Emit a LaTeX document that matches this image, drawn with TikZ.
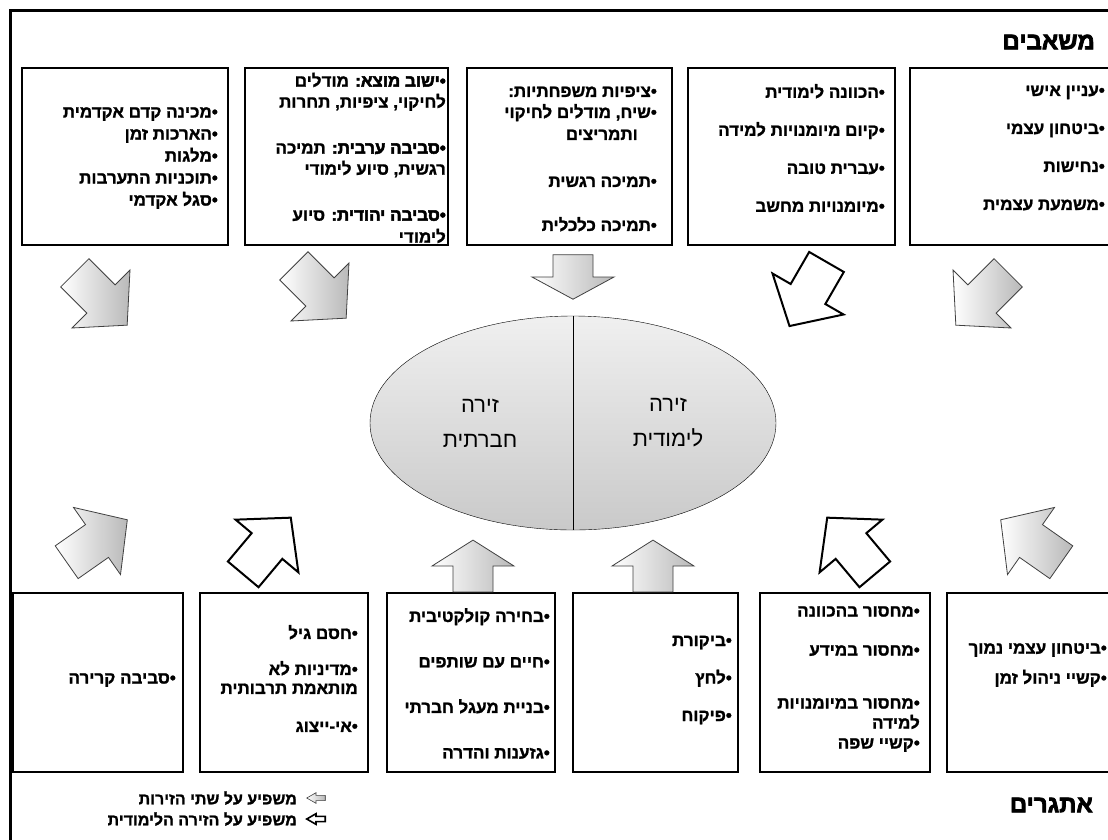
\documentclass[tikz,border=0pt]{standalone}
\usepackage{fontspec}
\usetikzlibrary{%
  positioning,
  shapes.geometric,
}
\TeXXeTstate=1
\newfontfamily\hebfont[Script=Hebrew]{Liberation Sans}
\newfontfamily\hebbold[Script=Hebrew,FakeBold=1.3]{Liberation Sans Bold}
\newfontfamily\hebheavy[Script=Hebrew,FakeBold=3]{Liberation Sans Bold}
% one right-to-left line
\newcommand\rl[1]{\beginR #1\endR}
% a heavier label at the start of an item
\newcommand\lbl[1]{{\hebheavy #1}}

\begin{document}
\begin{tikzpicture}[%
           x=1pt, y=-1pt,
           box/.style={
             % The shape:
             rectangle,
             draw,
             line width=1.8pt,
             inner sep=0pt,
           },
           items/.style={
             font=\hebbold\fontsize{17}{19}\selectfont,
             align=right,
             anchor=east,
             inner sep=0pt,
           },
           heading/.style={
             font=\hebheavy\fontsize{24}{28}\selectfont,
             anchor=east,
             inner sep=0pt,
           },
           arenatext/.style={
             font=\hebfont\fontsize{22}{26}\selectfont,
             align=center,
             inner sep=0pt,
           },
           grayarrow/.style={
             draw=black!75,
             line width=0.8pt,
             % light at the tail, darker at the head
             left color=white,
             right color=gray!55,
           },
           whitearrow/.style={
             draw=black,
             line width=2pt,
             fill=white,
           },
           blockarrow/.pic={
             \path[pic actions] (-37,-20) -- (0,-20) -- (0,-41) -- (37,0)
               -- (0,41) -- (0,20) -- (-37,20) -- cycle;
           },
         ]
         \useasboundingbox (0,0) rectangle (1108,839);

         % frame and headings
         \draw[line width=3pt] (10,850) -- (10,10) -- (1120,10);
         \node[heading] (resources) at (1095,42) {\rl{משאבים}};
         \node[heading] (challenges) at (1093,805) {\rl{אתגרים}};

         % resources
         \node[box, minimum width=206pt, minimum height=177pt] (supportbox) at (125,156.5) {};
         \node[box, minimum width=203pt, minimum height=177pt] (originbox) at (346.5,156.5) {};
         \node[box, minimum width=205pt, minimum height=177pt] (familybox) at (569.5,156.5) {};
         \node[box, minimum width=207pt, minimum height=177pt] (skillsbox) at (791.5,156.5) {};
         \node[box, minimum width=210pt, minimum height=177pt] (personalbox) at (1015,156.5) {};

         \node[items] (supporttext) at (218,158) {%
           \rl{•מכינה קדם אקדמית}\\[3pt]
           \rl{•הארכות זמן}\\[3pt]
           \rl{•מלגות}\\[3pt]
           \rl{•תוכניות התערבות}\\[3pt]
           \rl{•סגל אקדמי}};
         \node[items] (origintext) at (446,158) {%
           \rl{\lbl{•ישוב מוצא:} מודלים}\\[2pt]
           \rl{לחיקוי, ציפיות, תחרות}\\[27pt]
           \rl{\lbl{•סביבה ערבית:} תמיכה}\\[2pt]
           \rl{רגשית, סיוע לימודי}\\[27pt]
           \rl{\lbl{•סביבה יהודית:} סיוע}\\[3pt]
           \rl{לימודי}};
         \node[items] (familytext) at (657,159) {%
           \rl{•ציפיות משפחתיות:}\\[2pt]
           \rl{•שיח, מודלים לחיקוי}\\[3pt]
           \rl{ותמריצים}\rule{19pt}{0pt}\\[28pt]
           \rl{•תמיכה רגשית}\\[25pt]
           \rl{•תמיכה כלכלית}};
         \node[items] (skillstext) at (885,148) {%
           \rl{•הכוונה לימודית}\\[19pt]
           \rl{•קיום מיומנויות למידה}\\[19pt]
           \rl{•עברית טובה}\\[19pt]
           \rl{•מיומנויות מחשב}};
         \node[items] (personaltext) at (1105,148) {%
           \rl{•עניין אישי}\\[19pt]
           \rl{•ביטחון עצמי}\\[19pt]
           \rl{•נחישות}\\[19pt]
           \rl{•משמעת עצמית}};

         % challenges
         \node[box, minimum width=170pt, minimum height=179pt] (climatebox) at (98,682.5) {};
         \node[box, minimum width=168pt, minimum height=179pt] (policybox) at (284,682.5) {};
         \node[box, minimum width=168pt, minimum height=179pt] (socialbox) at (471,682.5) {};
         \node[box, minimum width=165pt, minimum height=179pt] (controlbox) at (655.5,682.5) {};
         \node[box, minimum width=170pt, minimum height=179pt] (lackbox) at (845,682.5) {};
         \node[box, minimum width=173pt, minimum height=179pt] (confidencebox) at (1033.5,682.5) {};

         \node[items] (climatetext) at (176,680) {\rl{•סביבה קרירה}};
         \node[items] (policytext) at (358,678.5) {%
           \rl{•חסם גיל}\\[17pt]
           \rl{•מדיניות לא}\\[0pt]
           \rl{מותאמת תרבותית}\\[19pt]
           \rl{•אי-ייצוג}};
         \node[items] (socialtext) at (550,683.5) {%
           \rl{•בחירה קולקטיבית}\\[26.5pt]
           \rl{•חיים עם שותפים}\\[26.5pt]
           \rl{•בניית מעגל חברתי}\\[26.5pt]
           \rl{•גזענות והדרה}};
         \node[items] (controltext) at (732,680) {%
           \rl{•ביקורת}\\[18.5pt]
           \rl{•לחץ}\\[18.5pt]
           \rl{•פיקוח}};
         \node[items] (lacktext) at (920,679) {%
           \rl{•מחסור בהכוונה}\\[20pt]
           \rl{•מחסור במידע}\\[34pt]
           \rl{•מחסור במיומנויות}\\[1pt]
           \rl{למידה}\\[1pt]
           \rl{•קשיי שפה}};
         \node[items] (confidencetext) at (1107,665) {%
           \rl{•ביטחון עצמי נמוך}\\[11pt]
           \rl{•קשיי ניהול זמן}};

         % the two arenas
         \node[ellipse, draw, thin, minimum width=406pt, minimum height=214pt,
               inner sep=0pt, top color=gray!12, bottom color=gray!42] (arena) at (573,423) {};
         \draw[thin] (arena.north) -- (arena.south);
         \node[arenatext] (socialarena) at (480,423) {\rl{זירה}\\[9pt]\rl{חברתית}};
         \node[arenatext] (learnarena) at (668,423) {\rl{זירה}\\[9pt]\rl{לימודית}};

         % arrows into the arenas
         \pic[grayarrow, rotate=-45] at (101,299) {blockarrow};
         \pic[grayarrow, rotate=-45] at (320,292) {blockarrow};
         \pic[grayarrow, rotate=-90, xscale=0.6] at (573,277) {blockarrow};
         \pic[whitearrow, rotate=-120] at (808,294) {blockarrow};
         \pic[grayarrow, rotate=-135] at (982,299) {blockarrow};

         \pic[grayarrow, rotate=35] at (97,541) {blockarrow};
         \pic[whitearrow, rotate=50] at (267,546) {blockarrow};
         \pic[grayarrow, rotate=90, xscale=0.7] at (473,566) {blockarrow};
         \pic[grayarrow, rotate=90, xscale=0.7] at (653,566) {blockarrow};
         \pic[whitearrow, rotate=130] at (851,546) {blockarrow};
         \pic[grayarrow, rotate=145] at (1031,541) {blockarrow};

         % legend
         \pic[grayarrow, line width=0.6pt, rotate=180, xscale=0.25, yscale=0.13] at (316,798) {blockarrow};
         \pic[whitearrow, line width=1.6pt, rotate=180, xscale=0.25, yscale=0.13] at (316,819) {blockarrow};
         \node[items, font=\hebbold\fontsize{16}{18}\selectfont] (bothlegend) at (297,798) {\rl{משפיע על שתי הזירות}};
         \node[items, font=\hebbold\fontsize{16}{18}\selectfont] (learnlegend) at (297,819) {\rl{משפיע על הזירה הלימודית}};
       \end{tikzpicture}
\end{document}
